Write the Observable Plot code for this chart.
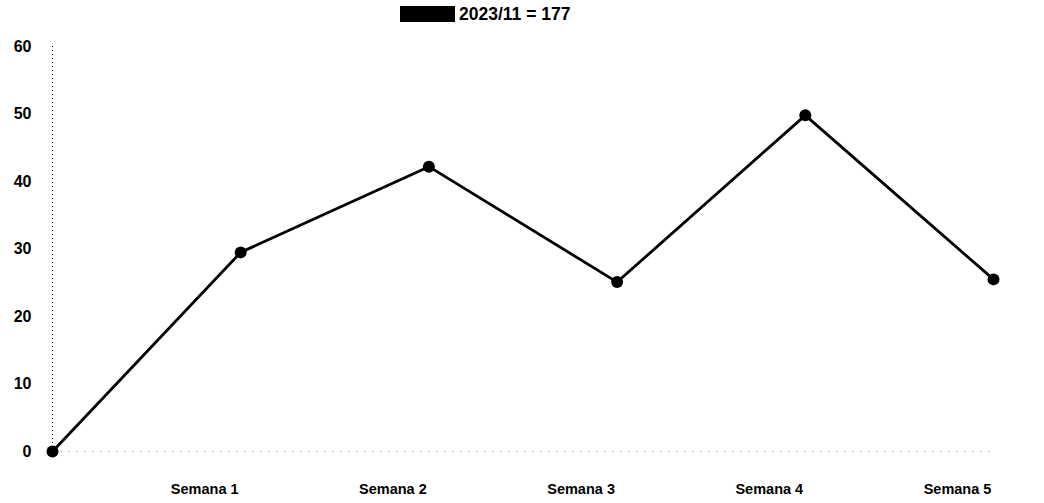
<!DOCTYPE html>
<html>
<head>
<meta charset="utf-8">
<script src="https://cdn.jsdelivr.net/npm/d3@7"></script>
<script src="https://cdn.jsdelivr.net/npm/@observablehq/plot@0.6"></script>
<style>
  html, body { margin: 0; padding: 0; background: #fff; }
  #title { height: 26px; line-height: 28px; text-align: left; padding-left: 400px; font-family: "Liberation Sans", Arial, sans-serif; font-weight: bold; font-size: 17.5px; color: #000; white-space: nowrap; }
  #title .box { display: inline-block; width: 55px; height: 16px; background: #000; vertical-align: -2px; margin-right: 4px; }
</style>
</head>
<body>
<div id="title"><span class="box"></span>2023/11 = 177</div>
<div id="chart"></div>
<script>
const labels = ["", "Semana 1", "Semana 2", "Semana 3", "Semana 4", "Semana 5"];
const values = [0, 29.5, 42.2, 25.1, 49.8, 25.5];
const yTicks = [0, 10, 20, 30, 40, 50, 60];

const data = values.map((v, i) => ({i, v, label: labels[i]}));

const chart = Plot.plot({
  width: 1044,
  height: 477,
  marginLeft: 52,
  marginRight: 51,
  marginTop: 20,
  marginBottom: 52,
  style: {fontFamily: "'Liberation Sans', Arial, sans-serif", fontSize: "14px", fontWeight: "bold", color: "#000", background: "#fff"},
  x: {domain: [0, labels.length - 1], axis: null},
  y: {domain: [0, 60], axis: null},
  marks: [
    Plot.ruleY([0], {stroke: "#bbb", strokeDasharray: "2,6", strokeWidth: 1}),
    Plot.ruleX([0], {y1: 0, y2: 60, stroke: "#000", strokeDasharray: "1,3", strokeWidth: 1}),
    Plot.axisY(yTicks, {anchor: "left", tickSize: 0, tickPadding: 21, fontSize: 16, fontWeight: "bold", label: null}),
    Plot.text(data.filter(d => d.label), {x: "i", y: 0, text: "label", dy: 38, dx: -36, fontSize: 14.5, fontWeight: "bold", fill: "#000"}),
    Plot.line(data, {x: "i", y: "v", stroke: "#000", strokeWidth: 2.8}),
    Plot.dot(data, {x: "i", y: "v", r: 6, fill: "#000"})
  ]
});
document.getElementById("chart").appendChild(chart);
</script>
</body>
</html>
